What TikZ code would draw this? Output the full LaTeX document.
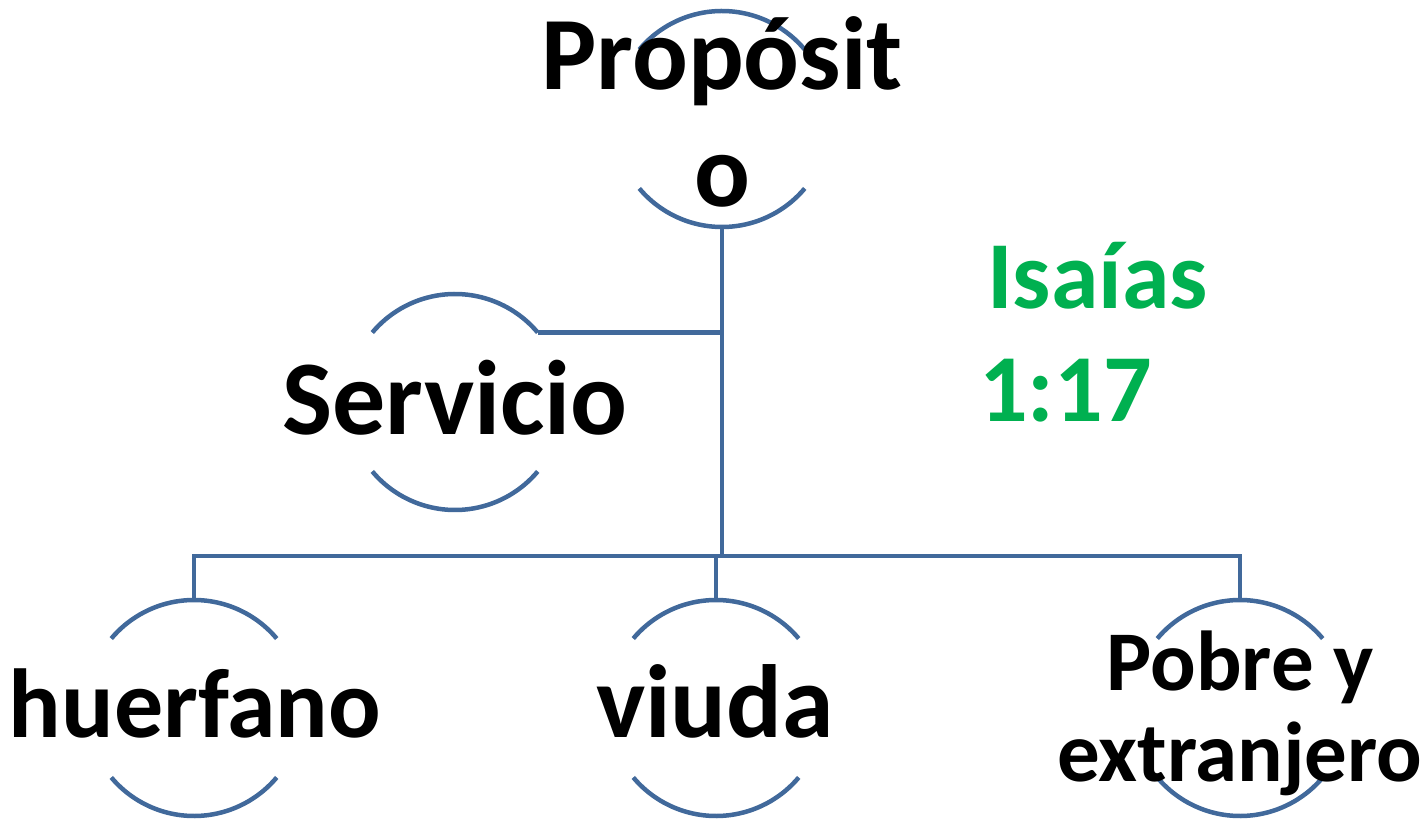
\documentclass[tikz,border=0pt]{standalone}
\usepackage{fontspec}
\setmainfont{Carlito}
\usetikzlibrary{positioning}
\definecolor{lineblue}{RGB}{65,105,155}
\definecolor{versegreen}{RGB}{0,176,80}

\begin{document}
\begin{tikzpicture}[x=1pt,y=1pt,
	ring/.style={circle,minimum size=216pt,inner sep=0pt,outer sep=0pt},
	arcs/.style={draw=lineblue,line width=4.5pt},
	link/.style={draw=lineblue,line width=4.5pt},
	word/.style={font=\fontsize{104}{117}\selectfont\bfseries,align=center,inner sep=0pt}]
	\useasboundingbox (0,0) rectangle (1427,823);
	\node[ring] (propr) at (722,704) {};
	\node[ring] (servr) at (455,421) {};
	\node[ring] (huerr) at (194,115) {};
	\node[ring] (viudr) at (716,115) {};
	\node[ring] (pobrr) at (1240,115) {};
	\foreach \r in {propr,servr,huerr,viudr,pobrr}{
		\draw[arcs] (\r.40) arc[start angle=40,end angle=140,radius=108pt];
		\draw[arcs] (\r.220) arc[start angle=220,end angle=320,radius=108pt];
	}
	\coordinate (split) at (722,267);
	\draw[link] (propr.south) -- (split);
	\draw[link] (servr.40) -- (servr.40 -| split);
	\draw[link] (huerr.north) |- (split) -| (pobrr.north);
	\draw[link] (viudr.north) -- (viudr.north |- split);
	\node[word] (prop) at (722,711) {Propósit\\o};
	\node[word,font=\fontsize{106}{117}\selectfont\bfseries,anchor=base] (serv) at (455,388) {Servicio};
	\node[word,font=\fontsize{98}{117}\selectfont\bfseries,anchor=base] (huer) at (195,86) {huerfano};
	\node[word,anchor=base] (viud) at (715,86) {viuda};
	\node[word,font=\fontsize{85}{91}\selectfont\bfseries] (pobr) at (1240,110) {Pobre y\\extranjero};
	\node[word,font=\fontsize{96}{113}\selectfont\bfseries,align=left,anchor=west,text=versegreen] (isa) at (979,491) {\hspace{8pt}Isaías\\1:17};
\end{tikzpicture}
\end{document}
